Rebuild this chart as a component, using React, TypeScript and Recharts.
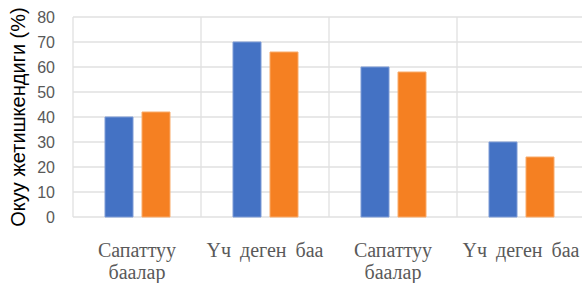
import { BarChart, Bar, XAxis, YAxis, CartesianGrid } from "recharts";

const categories = ["Сапаттуу баалар", "Үч деген баа", "Сапаттуу баалар", "Үч деген баа"];
const blueValues = [40, 70, 60, 30];
const orangeValues = [42, 66, 58, 24];
const yTicks = [0, 10, 20, 30, 40, 50, 60, 70, 80];
const yLabel = "Окуу жетишкендиги (%)";

const data = categories.map((c, i) => ({ c, blue: blueValues[i], orange: orangeValues[i] }));

// long labels wrap after the first word, like the Excel original
const wrapLabel = (s: string) => {
  if (s.length <= 13) return [s];
  const k = s.indexOf(" ");
  return [s.slice(0, k), s.slice(k + 1)];
};

const CategoryTick = ({ x, y, payload }: any) => {
  const lines = wrapLabel(String(payload.value));
  return (
    <text
      x={x}
      y={y}
      textAnchor="middle"
      fill="#595959"
      fontSize={20}
      fontFamily="Liberation Serif"
      style={{ wordSpacing: 4 }}
    >
      {lines.map((l, i) => (
        <tspan key={i} x={x} dy={i === 0 ? 38 : 22}>
          {l}
        </tspan>
      ))}
    </text>
  );
};

export default function App() {
  return (
    <div style={{ position: "absolute", left: 0, top: 0, width: 582, height: 283, overflow: "hidden", background: "#fff" }}>
      <BarChart
        width={600}
        height={283}
        data={data}
        margin={{ top: 17, right: 15, left: 0, bottom: 0 }}
        barGap={9}
      >
        <CartesianGrid
          stroke="#e0e0e0"
          strokeWidth={1.3}
          verticalCoordinatesGenerator={({ offset }: any) =>
            categories.map((_, i) => offset.left + (i * offset.width) / categories.length).concat(offset.left + offset.width)
          }
        />
        <XAxis
          dataKey="c"
          axisLine={false}
          tickLine={false}
          tickSize={0}
          height={66}
          tick={<CategoryTick />}
          interval={0}
        />
        <YAxis
          domain={[0, 80]}
          ticks={yTicks}
          width={73}
          axisLine={false}
          tickLine={false}
          tickSize={0}
          tickMargin={18}
          tick={{ fill: "#595959", fontSize: 16, fontFamily: "Liberation Sans" }}
          label={{
            value: yLabel,
            angle: -90,
            position: "center",
            dx: -19,
            style: { fill: "#000", fontSize: 20, fontFamily: "Liberation Sans", textAnchor: "middle" },
          }}
        />
        <Bar dataKey="blue" fill="#4472c4" stroke="#7d9bd6" strokeWidth={1} barSize={28} isAnimationActive={false} />
        <Bar dataKey="orange" fill="#f58022" stroke="#f9ab6a" strokeWidth={1} barSize={28} isAnimationActive={false} />
      </BarChart>
    </div>
  );
}
